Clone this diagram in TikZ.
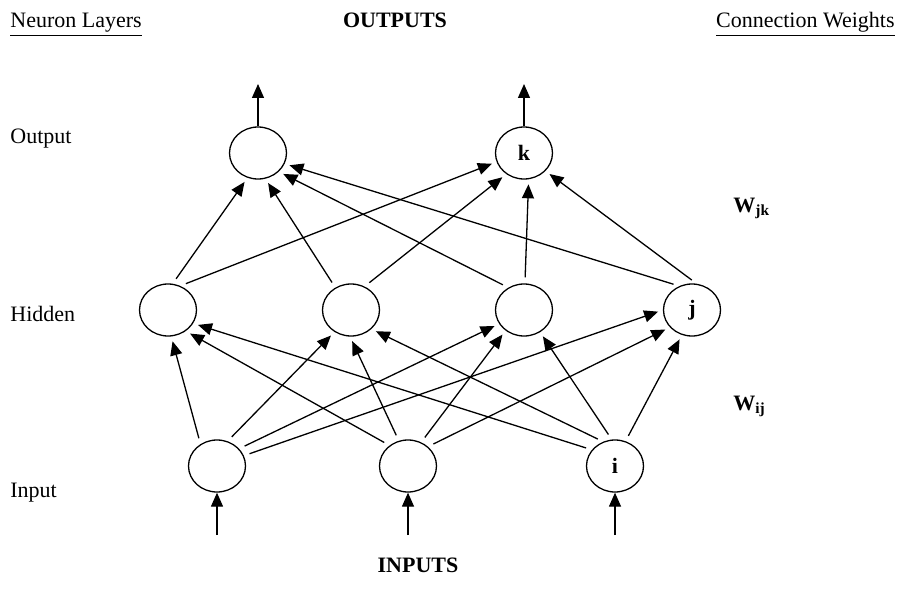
\documentclass[tikz,border=0pt]{standalone}
\usepackage{fontspec}
\setmainfont{Liberation Serif}
\usetikzlibrary{shapes.geometric,arrows.meta}

\begin{document}
\begin{tikzpicture}[x=0.5pt,y=-0.5pt,
  neuron/.style={ellipse,draw,line width=0.65pt,minimum width=28.5pt,
    minimum height=26pt,inner sep=0pt,font=\bfseries\fontsize{11}{13}\selectfont},
  conn/.style={line width=0.65pt,-{Triangle[length=7pt,width=6pt]},
    shorten <=3pt,shorten >=2.5pt},
  io/.style={line width=0.65pt,-{Triangle[length=7pt,width=6pt]}},
  lbl/.style={font=\fontsize{11}{13}\selectfont,inner sep=0pt},
  head/.style={font=\bfseries\fontsize{11}{13}\selectfont,inner sep=0pt},
  ]
\useasboundingbox (0,0) rectangle (898,599);

% neurons
\node[neuron] (o1) at (258,153) {};
\node[neuron] (o2) at (524,153) {k};
\node[neuron] (h1) at (168,310) {};
\node[neuron] (h2) at (351,310) {};
\node[neuron] (h3) at (524,310) {};
\node[neuron] (h4) at (692,310) {j};
\node[neuron] (i1) at (217,466) {};
\node[neuron] (i2) at (408,466) {};
\node[neuron] (i3) at (615,466) {i};

% free ends of the outer arrows
\coordinate (o1top) at (258,84);
\coordinate (o2top) at (524,84);
\coordinate (i1bot) at (217,535);
\coordinate (i2bot) at (408,535);
\coordinate (i3bot) at (615,535);

\draw[io] (o1.north) -- (o1top);
\draw[io] (o2.north) -- (o2top);
\draw[io] (i1bot) -- (i1.south);
\draw[io] (i2bot) -- (i2.south);
\draw[io] (i3bot) -- (i3.south);

% input -> hidden (weights w_ij)
\draw[conn] (i1.127) -- (h1.-83);
\draw[conn] (i1.67)  -- (h2.-127);
\draw[conn] (i1.38)  -- (h3.-151);
\draw[conn] (i1.21)  -- (h4.180);
\draw[conn] (i2.132) -- (h1.-50);
\draw[conn] (i2.110) -- (h2.-92);
\draw[conn] (i2.61)  -- (h3.-132);
\draw[conn] (i2.44)  -- (h4.-142);
\draw[conn] (i3.145) -- (h1.-28);
\draw[conn] (i3.116) -- (h2.-43);
\draw[conn] (i3.97)  -- (h3.-54);
\draw[conn] (i3.67)  -- (h4.-112);

% hidden -> output (weights w_jk)
\draw[conn] (h1.80)  -- (o1.-113);
\draw[conn] (h1.63)  -- (o2.-162);
\draw[conn] (h2.125) -- (o1.-74);
\draw[conn] (h2.60)  -- (o2.-130);
\draw[conn] (h3.125) -- (o1.-42);
\draw[conn] (h3.88)  -- (o2.-80);
\draw[conn] (h4.118) -- (o1.-22);
\draw[conn] (h4.80)  -- (o2.-40);

% headings and layer names
\node[lbl,anchor=base west] (tl) at (10,28) {\underline{Neuron Layers}};
\node[head,anchor=base] (to) at (395,28) {OUTPUTS};
\node[lbl,anchor=base east] (tr) at (895,28) {\underline{Connection Weights}};
\node[lbl,anchor=base west] (lo) at (10,143) {Output};
\node[lbl,anchor=base west] (lh) at (10,321) {Hidden};
\node[lbl,anchor=base west] (li) at (10,497) {Input};
\node[head,anchor=base] (ti) at (418,572) {INPUTS};
\node[head,anchor=base west] (wjk) at (733,212) {W\textsubscript{jk}};
\node[head,anchor=base west] (wij) at (733,410) {W\textsubscript{ij}};
\end{tikzpicture}
\end{document}
